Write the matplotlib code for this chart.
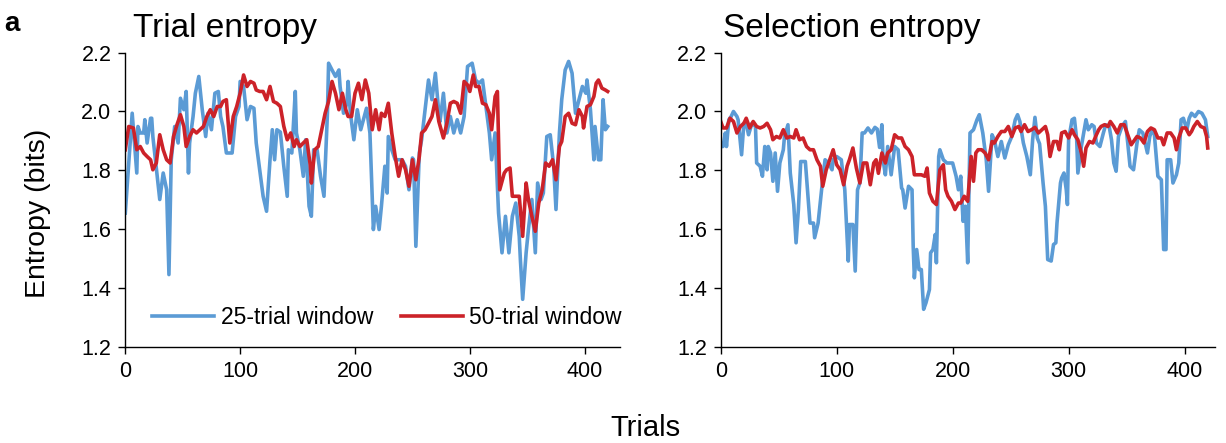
import matplotlib
matplotlib.use("Agg")
import matplotlib.pyplot as plt

plt.rcParams['font.family'] = ['Liberation Sans', 'DejaVu Sans']

# ---------------- data ----------------
trial_25_t = [0, 6, 10, 11, 13, 16, 17, 19, 22, 23, 24, 30, 33, 36, 38, 40, 43, 46, 48, 51, 53, 55, 56, 59, 61, 64, 67, 70,
              72, 75, 78, 81, 83, 85, 88, 93, 96, 99, 100, 103, 106, 109, 112, 114, 117, 120, 123, 126, 128, 130, 132, 135,
              138, 141, 142, 145, 148, 149, 152, 155, 157, 160, 162, 164, 167, 170, 173, 176, 177, 180, 183, 186, 187, 190,
              193, 194, 196, 199, 202, 205, 210, 213, 216, 218, 221, 223, 226, 228, 229, 232, 235, 238, 241, 244, 247, 250,
              251, 253, 256, 258, 261, 264, 267, 270, 273, 274, 277, 280, 283, 286, 289, 292, 295, 298, 302, 305, 308, 311,
              314, 317, 319, 322, 325, 328, 331, 334, 337, 340, 343, 344, 346, 349, 351, 354, 357, 359, 362, 364, 367, 370,
              373, 375, 378, 380, 383, 386, 389, 392, 395, 398, 401, 402, 405, 408, 409, 412, 414, 416, 418, 420]
trial_25_v = [1.655, 1.994, 1.791, 1.949, 1.927, 1.927, 1.972, 1.893, 1.977, 1.977, 1.915, 1.701, 1.791, 1.734, 1.446,
              1.836, 1.949, 1.893, 2.045, 2.006, 2.068, 1.791, 1.893, 1.983, 2.062, 2.119, 2.006, 1.915, 1.994, 1.938,
              2.062, 2.068, 1.983, 1.949, 1.859, 1.859, 1.983, 2.017, 2.102, 2.085, 1.972, 2.017, 2.011, 1.893, 1.802,
              1.712, 1.661, 1.836, 1.938, 1.836, 1.938, 1.93, 1.814, 1.712, 1.87, 1.859, 2.068, 1.927, 1.87, 1.78,
              1.904, 1.678, 1.644, 1.87, 1.87, 1.78, 1.712, 1.994, 2.164, 2.141, 2.119, 2.141, 2.085, 1.994, 2.028,
              2.102, 1.994, 1.904, 2.006, 1.938, 2.011, 1.927, 1.599, 1.678, 1.599, 1.678, 1.814, 1.723, 1.915, 1.87,
              1.836, 1.836, 1.836, 1.814, 1.734, 1.842, 1.836, 1.542, 1.859, 1.904, 2.006, 2.107, 2.04, 2.13, 1.994,
              1.966, 2.062, 1.927, 1.983, 1.927, 1.972, 1.927, 1.983, 2.153, 2.164, 2.107, 2.096, 2.107, 2.017, 1.927,
              1.836, 1.927, 1.655, 1.52, 1.644, 1.52, 1.644, 1.689, 1.576, 1.497, 1.362, 1.52, 1.599, 1.701, 1.52,
              1.757, 1.701, 1.723, 1.915, 1.921, 1.814, 1.667, 1.927, 2.04, 2.141, 2.17, 2.13, 1.994, 2.04, 2.085,
              2.062, 2.107, 2.006, 1.836, 1.949, 1.836, 1.836, 2.04, 1.938, 1.949]

trial_50_t = [0, 3, 7, 10, 13, 16, 19, 22, 24, 27, 30, 33, 36, 39, 42, 45, 48, 51, 53, 56, 59, 62, 65, 68, 71, 74, 77, 80,
              83, 85, 88, 91, 94, 97, 100, 103, 106, 109, 112, 114, 117, 120, 123, 126, 129, 132, 135, 138, 141, 144, 147,
              149, 152, 155, 158, 161, 162, 165, 168, 171, 174, 177, 180, 183, 186, 189, 192, 194, 197, 200, 203, 206, 209,
              212, 215, 218, 221, 223, 226, 229, 232, 235, 238, 241, 244, 247, 250, 253, 256, 258, 261, 264, 267, 270, 273,
              277, 280, 283, 286, 289, 292, 293, 295, 298, 300, 303, 305, 308, 311, 314, 317, 319, 322, 324, 326, 330, 332,
              335, 337, 340, 343, 346, 349, 351, 354, 357, 360, 363, 366, 369, 372, 375, 378, 380, 383, 386, 389, 392, 395,
              398, 399, 402, 405, 408, 410, 412, 415, 418, 420]
trial_50_v = [1.87, 1.949, 1.944, 1.87, 1.881, 1.859, 1.847, 1.836, 1.802, 1.825, 1.921, 1.87, 1.836, 1.825, 1.915, 1.955,
              1.989, 1.949, 1.881, 1.915, 1.938, 1.927, 1.938, 1.949, 1.983, 2.006, 1.983, 2.017, 2.017, 2.034, 2.04,
              1.893, 1.983, 2.017, 2.062, 2.124, 2.085, 2.102, 2.096, 2.073, 2.068, 2.068, 2.04, 2.085, 2.034, 2.028,
              2.017, 1.95, 1.904, 1.927, 1.881, 1.904, 1.881, 1.893, 1.904, 1.819, 1.757, 1.87, 1.881, 1.938, 1.994,
              2.034, 2.102, 2.062, 2.006, 2.062, 2.006, 1.983, 1.983, 2.062, 2.096, 2.04, 2.107, 2.062, 1.938, 2.006,
              1.938, 1.994, 1.983, 2.028, 1.927, 1.847, 1.78, 1.836, 1.802, 1.746, 1.836, 1.768, 1.847, 1.927, 1.938,
              1.96, 1.983, 2.04, 1.966, 1.91, 1.96, 2.028, 2.034, 2.028, 1.994, 2.028, 2.102, 2.09, 2.068, 2.124, 2.085,
              2.085, 2.028, 2.023, 1.994, 1.938, 2.051, 2.068, 1.734, 1.791, 1.802, 1.808, 1.712, 1.712, 1.712, 1.576,
              1.757, 1.701, 1.644, 1.593, 1.689, 1.734, 1.825, 1.814, 1.836, 1.768, 1.881, 1.898, 1.983, 1.994, 1.96,
              1.955, 2.006, 1.983, 1.944, 2.017, 2.023, 2.051, 2.096, 2.107, 2.079, 2.073, 2.068]

sel_25_t = [0, 2, 4, 5, 7, 9, 11, 14, 15, 18, 20, 22, 24, 27, 30, 31, 34, 36, 38, 40, 41, 43, 45, 47, 49, 51, 54, 55, 58,
            60, 63, 65, 67, 69, 73, 75, 77, 80, 81, 84, 87, 90, 93, 96, 97, 100, 104, 107, 110, 111, 114, 116, 118, 120,
            122, 124, 127, 130, 133, 135, 137, 139, 140, 142, 144, 147, 150, 153, 156, 157, 159, 162, 165, 166, 167, 169,
            171, 173, 175, 177, 180, 181, 183, 185, 186, 188, 189, 192, 195, 198, 200, 203, 205, 207, 209, 211, 213, 215,
            218, 221, 223, 226, 229, 231, 234, 236, 239, 242, 245, 248, 251, 254, 256, 258, 261, 264, 267, 269, 271, 273,
            275, 278, 280, 282, 285, 287, 289, 290, 293, 294, 296, 298, 299, 300, 303, 305, 307, 308, 311, 313, 315, 317,
            320, 322, 324, 327, 330, 332, 335, 337, 339, 341, 343, 346, 349, 351, 353, 356, 359, 361, 364, 366, 368, 370,
            372, 374, 377, 380, 382, 384, 385, 388, 390, 393, 395, 397, 399, 402, 404, 406, 409, 412, 415, 418, 420]
sel_25_v = [1.881, 1.881, 1.927, 1.881, 1.972, 1.983, 2.0, 1.983, 1.972, 1.853, 1.96, 1.96, 1.921, 1.96, 1.949, 1.825,
            1.814, 1.78, 1.881, 1.802, 1.881, 1.859, 1.763, 1.859, 1.729, 1.825, 1.87, 1.915, 1.955, 1.791, 1.684,
            1.554, 1.667, 1.83, 1.83, 1.723, 1.621, 1.621, 1.571, 1.621, 1.734, 1.836, 1.825, 1.802, 1.836, 1.847,
            1.836, 1.734, 1.492, 1.616, 1.616, 1.458, 1.734, 1.757, 1.927, 1.927, 1.944, 1.927, 1.946, 1.94, 1.878,
            1.955, 1.836, 1.785, 1.881, 1.785, 1.881, 1.87, 1.74, 1.734, 1.672, 1.746, 1.734, 1.542, 1.435, 1.531,
            1.463, 1.463, 1.328, 1.35, 1.395, 1.52, 1.531, 1.582, 1.486, 1.847, 1.87, 1.836, 1.825, 1.825, 1.825,
            1.78, 1.734, 1.78, 1.627, 1.678, 1.486, 1.927, 1.938, 1.972, 1.989, 1.927, 1.836, 1.729, 1.921, 1.904,
            1.847, 1.898, 1.842, 1.887, 1.915, 1.972, 1.989, 1.966, 1.893, 1.847, 1.785, 1.904, 1.98, 1.91, 1.89,
            1.757, 1.678, 1.497, 1.492, 1.548, 1.554, 1.621, 1.757, 1.774, 1.791, 1.734, 1.684, 1.904, 1.972, 1.977,
            1.904, 1.791, 1.881, 1.927, 1.972, 1.938, 1.955, 1.949, 1.893, 1.881, 1.927, 1.955, 1.949, 1.904, 1.825,
            1.797, 1.915, 1.949, 1.966, 1.893, 1.814, 1.802, 1.893, 1.938, 1.927, 1.893, 1.859, 1.915, 1.938, 1.921,
            1.78, 1.768, 1.531, 1.531, 1.836, 1.836, 1.757, 1.785, 1.825, 1.972, 1.977, 1.938, 1.977, 1.994, 1.983,
            2.0, 1.994, 1.972, 1.915]

sel_50_t = [0, 2, 5, 8, 11, 14, 17, 20, 22, 25, 28, 31, 34, 37, 40, 43, 45, 48, 51, 54, 57, 60, 63, 65, 68, 71, 74, 77, 80,
            83, 86, 88, 91, 94, 97, 100, 103, 106, 109, 111, 114, 117, 120, 123, 126, 129, 132, 134, 136, 139, 142, 144,
            147, 150, 153, 156, 159, 162, 165, 167, 170, 173, 176, 178, 180, 183, 186, 189, 192, 194, 196, 199, 202, 205,
            207, 210, 213, 216, 218, 220, 222, 225, 228, 231, 234, 236, 239, 242, 245, 248, 251, 254, 257, 259, 262, 265,
            268, 271, 274, 277, 280, 282, 284, 287, 290, 292, 294, 297, 300, 303, 305, 308, 311, 313, 315, 318, 321, 324,
            326, 328, 331, 334, 336, 339, 342, 345, 348, 351, 354, 357, 359, 362, 365, 368, 371, 374, 377, 380, 382, 385,
            388, 391, 393, 395, 398, 401, 404, 406, 408, 411, 414, 417, 419, 420]
sel_50_v = [1.966, 1.944, 1.944, 1.977, 1.966, 1.927, 1.949, 1.96, 1.977, 1.944, 1.966, 1.949, 1.944, 1.949, 1.96, 1.938,
            1.904, 1.915, 1.91, 1.938, 1.91, 1.915, 1.91, 1.938, 1.904, 1.91, 1.881, 1.87, 1.87, 1.836, 1.814, 1.746,
            1.802, 1.836, 1.87, 1.819, 1.802, 1.751, 1.814, 1.836, 1.876, 1.808, 1.757, 1.825, 1.825, 1.751, 1.825,
            1.836, 1.79, 1.859, 1.825, 1.859, 1.87, 1.921, 1.91, 1.91, 1.881, 1.87, 1.847, 1.785, 1.785, 1.785, 1.78,
            1.808, 1.723, 1.695, 1.684, 1.802, 1.819, 1.734, 1.712, 1.695, 1.667, 1.689, 1.689, 1.712, 1.695, 1.847,
            1.763, 1.859, 1.87, 1.87, 1.859, 1.836, 1.898, 1.893, 1.915, 1.932, 1.932, 1.949, 1.915, 1.944, 1.949,
            1.932, 1.955, 1.932, 1.938, 1.946, 1.927, 1.938, 1.949, 1.921, 1.847, 1.898, 1.898, 1.87, 1.927, 1.932,
            1.91, 1.938, 1.921, 1.904, 1.859, 1.814, 1.876, 1.898, 1.893, 1.921, 1.938, 1.949, 1.955, 1.949, 1.966,
            1.949, 1.927, 1.955, 1.955, 1.921, 1.887, 1.904, 1.915, 1.91, 1.893, 1.932, 1.944, 1.938, 1.91, 1.91,
            1.887, 1.927, 1.927, 1.91, 1.87, 1.91, 1.944, 1.944, 1.921, 1.932, 1.949, 1.966, 1.949, 1.944, 1.915,
            1.876]

panel_titles = ["Trial entropy", "Selection entropy"]
legend_labels = ["25-trial window", "50-trial window"]
x_ticks = [0, 100, 200, 300, 400]
y_ticks = [1.2, 1.4, 1.6, 1.8, 2.0, 2.2]

# ---------------- style ----------------
BLUE = "#5B9BD5"
RED = "#CC2229"
W, H = 1226, 443
fig = plt.figure(figsize=(W / 100, H / 100), dpi=100)

ax1 = fig.add_axes([125.3 / W, 1 - 347 / H, 495 / W, 294.4 / H])
ax2 = fig.add_axes([720.7 / W, 1 - 347 / H, 494 / W, 294.4 / H])

series = [(ax1, trial_25_t, trial_25_v, trial_50_t, trial_50_v),
          (ax2, sel_25_t, sel_25_v, sel_50_t, sel_50_v)]

for ax, t25, v25, t50, v50 in series:
    ax.plot(t25, v25, color=BLUE, lw=2.6, solid_joinstyle='round', label=legend_labels[0])
    ax.plot(t50, v50, color=RED, lw=2.6, solid_joinstyle='round', label=legend_labels[1])
    ax.set_xlim(0, 431)
    ax.set_ylim(1.2, 2.2)
    ax.set_xticks(x_ticks)
    ax.set_yticks(y_ticks)
    ax.set_yticklabels([f"{v:.1f}" for v in y_ticks])
    for s in ("top", "right"):
        ax.spines[s].set_visible(False)
    for s in ("left", "bottom"):
        ax.spines[s].set_linewidth(1.0)
        ax.spines[s].set_color("black")
    ax.tick_params(direction='out', length=5, width=1, labelsize=15.5, pad=5, colors='black')
    ax.patch.set_alpha(0)
    for sp in ax.spines.values():
        sp.set_zorder(5)

ax2.set_xlim(0, 426)

ax1.legend(loc='center left', bbox_to_anchor=(0.054, 0.1), ncol=2, frameon=False,
           fontsize=16.5, handlelength=2.7, handletextpad=0.3, columnspacing=1.2,
           borderpad=0, borderaxespad=0)

fig.text(133 / W, 1 - 37 / H, panel_titles[0], fontsize=24, va='baseline', ha='left')
fig.text(723 / W, 1 - 37 / H, panel_titles[1], fontsize=24, va='baseline', ha='left')
fig.text(4 / W, 1 - 31 / H, "a", fontsize=20, fontweight='bold', va='baseline', ha='left')
fig.text(38 / W, 1 - 213 / H, "Entropy (bits)", fontsize=20.5, rotation=90, va='center', ha='center')
fig.text(645 / W, 1 - 428 / H, "Trials", fontsize=21, va='center', ha='center')

fig.savefig("out.png", dpi=100)
